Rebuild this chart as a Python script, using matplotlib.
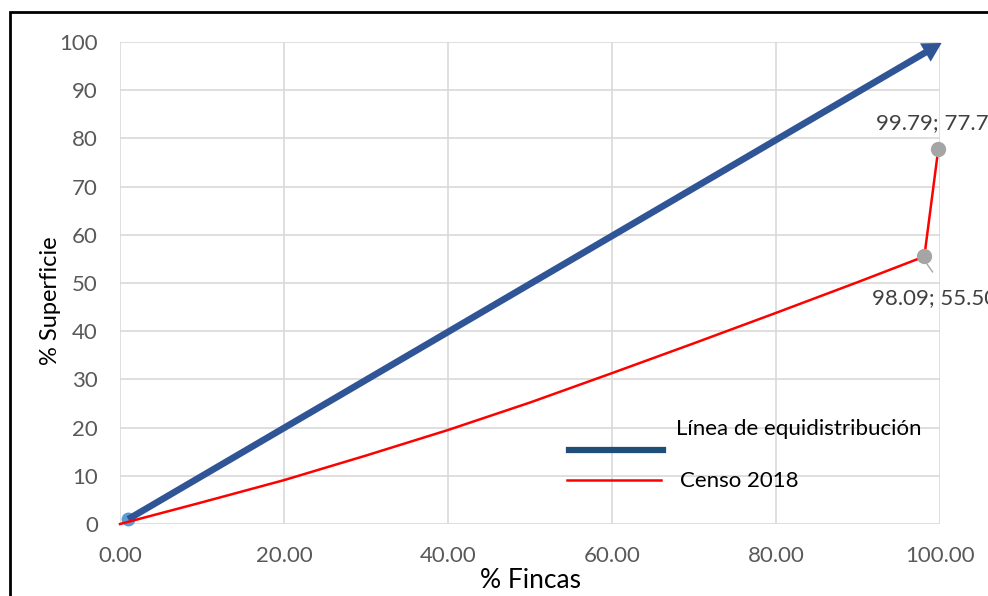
import matplotlib.pyplot as plt
from matplotlib.patches import Rectangle
from matplotlib.lines import Line2D

plt.rcParams["font.family"] = ["Lato", "DejaVu Sans"]

# Lorenz curve, Censo 2018 (% fincas vs % superficie)
censo_x = [0, 10, 20, 30, 40, 50, 60, 70, 80, 90, 98.09, 99.79]
censo_y = [0, 4.5, 9.1, 14.2, 19.5, 25.2, 31.3, 37.5, 43.8, 50.2, 55.50, 77.79]

# equidistribution line
equi_x = [1, 100.2]
equi_y = [1, 99.8]

# labelled points
label_x = [98.09, 99.79]
label_y = [55.50, 77.79]

x_ticks = [0, 20, 40, 60, 80, 100]
y_ticks = list(range(0, 101, 10))

BLUE = "#2F5597"
RED = "#FF0000"
GRAY_PT = "#A5A5A5"
TICK_C = "#595959"
GRID_C = "#D9D9D9"

fig = plt.figure(figsize=(9.88, 5.96), dpi=100)
ax = fig.add_axes([120 / 988, 1 - 524 / 596, 820 / 988, 482 / 596])
ax.set_xlim(0, 100)
ax.set_ylim(0, 100)
ax.set_xticks(x_ticks)
ax.set_yticks(y_ticks)
ax.set_xticklabels([f"{v:.2f}" for v in x_ticks])
ax.grid(True, color=GRID_C, linewidth=1.2)
ax.set_axisbelow(True)
for s in ax.spines.values():
    s.set_visible(False)
ax.tick_params(length=0, labelsize=16, colors=TICK_C)
ax.tick_params(axis="x", pad=16)
ax.tick_params(axis="y", pad=16)

# equidistribution arrow
ax.annotate("", xy=(equi_x[1], equi_y[1]), xytext=(equi_x[0], equi_y[0]),
            arrowprops=dict(arrowstyle="simple,head_length=0.85,head_width=0.95,tail_width=0.3",
                            color=BLUE, linewidth=0, shrinkA=0, shrinkB=0,
                            mutation_scale=16),
            zorder=4, annotation_clip=False)
ax.plot([equi_x[0]], [equi_y[0]], "o", color="#5B9BD5", markersize=9, zorder=3,
        clip_on=False)

# Censo 2018 curve
ax.plot(censo_x, censo_y, color=RED, linewidth=1.8, zorder=5, clip_on=False)
ax.plot(label_x, label_y, "o", color=GRAY_PT, markersize=10, zorder=6,
        clip_on=False)

# data labels
ax.annotate(f"{label_x[1]:.2f}; {label_y[1]:.2f}", xy=(label_x[1], label_y[1]),
            xytext=(-45, 19), textcoords="offset points", fontsize=16,
            color="#404040", va="center", ha="left", annotation_clip=False)
ax.annotate(f"{label_x[0]:.2f}; {label_y[0]:.2f}", xy=(label_x[0], label_y[0]),
            xytext=(-38, -30), textcoords="offset points", fontsize=16,
            color="#404040", va="center", ha="left", annotation_clip=False)
ax.plot([label_x[0] + 0.3, label_x[0] + 1.0], [label_y[0] - 1.5, label_y[0] - 3.2],
        color=GRAY_PT, linewidth=1, zorder=5, clip_on=False)

ax.set_xlabel("% Fincas", fontsize=19, labelpad=1)
ax.set_ylabel("% Superficie", fontsize=17)
ax.yaxis.set_label_coords(-0.072, 0.463)

# legend drawn by hand to match the layout
tr = ax.transAxes
ax.add_line(Line2D([0.547, 0.662], [0.154, 0.154], transform=tr, color="#1F4E79",
                   linewidth=4.5))
ax.text(0.678, 0.197, "Línea de equidistribución", transform=tr, fontsize=16,
        va="center", ha="left", color="black")
ax.add_line(Line2D([0.545, 0.660], [0.091, 0.091], transform=tr, color=RED,
                   linewidth=1.8))
ax.text(0.683, 0.089, "Censo 2018", transform=tr, fontsize=16,
        va="center", ha="left", color="black")

# outer chart frame (cut by the image edges)
fig.patches.append(Rectangle((10 / 988, -0.2), 1.2, 1.2 - 12 / 596,
                             transform=fig.transFigure, fill=False,
                             edgecolor="black", linewidth=2))

fig.savefig("out.png", dpi=100)
